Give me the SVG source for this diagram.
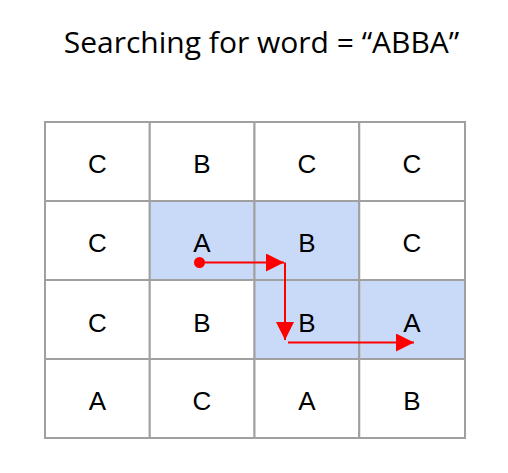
<svg xmlns="http://www.w3.org/2000/svg" width="508" height="473" viewBox="0 0 508 473">
<style>
.title{font-family:"Open Sans",sans-serif;font-size:30px;fill:#000}
.cell{fill:#fff;stroke:#a0a0a0;stroke-width:2}
.hl{fill:#c9daf8;stroke:#a0a0a0;stroke-width:2}
.lbl{font-family:"Liberation Sans",Arial,sans-serif;font-size:26px;fill:#000;text-anchor:middle}
.arr{stroke:#ff0000;stroke-width:2;fill:none}
</style>
<defs>
<marker id="ahb" viewBox="0 0 10 10" refX="10" refY="5" markerWidth="18" markerHeight="18" markerUnits="userSpaceOnUse" orient="auto">
<path d="M0,0 L10,5 L0,10 z" fill="#ff0000"/>
</marker>
</defs>
<text class="title" x="261.5" y="53" text-anchor="middle">Searching for word = “ABBA”</text>
<g id="grid">
<g id="r0c0"><rect class="cell" x="45" y="122" width="104.75" height="79"/><text class="lbl" x="97.4" y="173">C</text></g>
<g id="r0c1"><rect class="cell" x="149.75" y="122" width="104.75" height="79"/><text class="lbl" x="202" y="173">B</text></g>
<g id="r0c2"><rect class="cell" x="254.5" y="122" width="104.75" height="79"/><text class="lbl" x="307" y="173">C</text></g>
<g id="r0c3"><rect class="cell" x="359.25" y="122" width="105.75" height="79"/><text class="lbl" x="412" y="173">C</text></g>
<g id="r1c0"><rect class="cell" x="45" y="201" width="104.75" height="79"/><text class="lbl" x="97.4" y="252">C</text></g>
<g id="r1c1"><rect class="hl" x="149.75" y="201" width="104.75" height="79"/><text class="lbl" x="202" y="252">A</text></g>
<g id="r1c2"><rect class="hl" x="254.5" y="201" width="104.75" height="79"/><text class="lbl" x="307" y="252">B</text></g>
<g id="r1c3"><rect class="cell" x="359.25" y="201" width="105.75" height="79"/><text class="lbl" x="412" y="252">C</text></g>
<g id="r2c0"><rect class="cell" x="45" y="280" width="104.75" height="79"/><text class="lbl" x="97.4" y="331.5">C</text></g>
<g id="r2c1"><rect class="cell" x="149.75" y="280" width="104.75" height="79"/><text class="lbl" x="202" y="331.5">B</text></g>
<g id="r2c2"><rect class="hl" x="254.5" y="280" width="104.75" height="79"/><text class="lbl" x="307" y="331.5">B</text></g>
<g id="r2c3"><rect class="hl" x="359.25" y="280" width="105.75" height="79"/><text class="lbl" x="412" y="331.5">A</text></g>
<g id="r3c0"><rect class="cell" x="45" y="359" width="104.75" height="79"/><text class="lbl" x="97.4" y="410">A</text></g>
<g id="r3c1"><rect class="cell" x="149.75" y="359" width="104.75" height="79"/><text class="lbl" x="202" y="410">C</text></g>
<g id="r3c2"><rect class="cell" x="254.5" y="359" width="104.75" height="79"/><text class="lbl" x="307" y="410">A</text></g>
<g id="r3c3"><rect class="cell" x="359.25" y="359" width="105.75" height="79"/><text class="lbl" x="412" y="410">B</text></g>
</g>
<g id="connectors">
<circle cx="199.5" cy="262.5" r="5.5" fill="#ff0000"/>
<path class="arr" d="M199.5,262.5 H284" marker-end="url(#ahb)"/>
<path class="arr" d="M285,262.5 V340" marker-end="url(#ahb)"/>
<path class="arr" d="M288,342.5 H414" marker-end="url(#ahb)"/>
</g>
</svg>
